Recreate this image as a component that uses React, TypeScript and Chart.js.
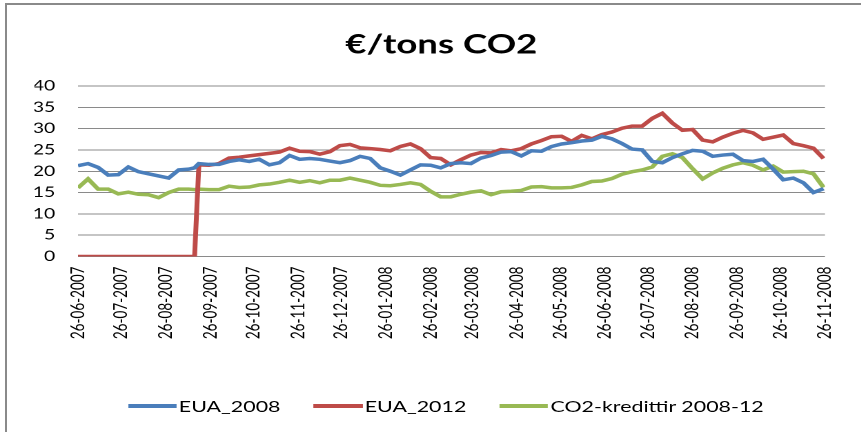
import React, { useEffect, useRef } from "react";
import { Chart, registerables } from "chart.js";

Chart.register(...registerables);

// days since 26-06-2007 (sample dates of the series)
const days = [
  0, 7, 14, 21, 28, 35, 42, 49, 56, 63, 70, 77, 81, 84, 91, 98, 105, 112, 119, 126,
  133, 140, 147, 154, 161, 168, 175, 182, 189, 196, 203, 210, 217, 224, 231, 238, 245,
  252, 259, 266, 273, 280, 287, 294, 301, 308, 315, 322, 329, 336, 343, 350, 357, 364,
  371, 378, 385, 392, 399, 406, 413, 420, 427, 434, 441, 448, 455, 462, 469, 476, 483,
  490, 497, 504, 511, 518,
];

const eua2008 = [
  21.3, 21.8, 20.9, 19.1, 19.2, 21.0, 19.9, 19.4, 18.9, 18.4, 20.3, 20.5, 20.8, 21.8,
  21.6, 21.6, 22.3, 22.7, 22.3, 22.8, 21.5, 22.0, 23.7, 22.8, 23.0, 22.8, 22.4, 22.0,
  22.5, 23.5, 23.0, 20.8, 20.0, 19.1, 20.3, 21.5, 21.4, 20.8, 21.8, 22.0, 21.8, 23.1,
  23.7, 24.5, 24.6, 23.6, 24.8, 24.7, 25.8, 26.4, 26.7, 27.1, 27.3, 28.2, 27.6, 26.5,
  25.2, 25.0, 22.3, 22.0, 23.2, 24.1, 24.9, 24.7, 23.5, 23.8, 24.0, 22.5, 22.3, 22.8,
  20.5, 18.0, 18.4, 17.3, 15.0, 15.9,
];

const eua2012 = [
  0, 0, 0, 0, 0, 0, 0, 0, 0, 0, 0, 0, 0, 21.5, 21.4, 21.8, 23.1, 23.3, 23.6, 23.9, 24.2,
  24.5, 25.4, 24.7, 24.6, 24.0, 24.6, 26.0, 26.3, 25.5, 25.3, 25.1, 24.8, 25.8, 26.4,
  25.3, 23.2, 23.0, 21.5, 22.7, 23.8, 24.4, 24.3, 25.1, 24.8, 25.3, 26.4, 27.2, 28.1,
  28.2, 27.0, 28.4, 27.6, 28.6, 29.2, 30.1, 30.6, 30.6, 32.4, 33.6, 31.3, 29.6, 29.8,
  27.3, 26.9, 28.0, 28.9, 29.6, 29.0, 27.5, 28.0, 28.5, 26.5, 26.0, 25.4, 23.0,
];

const co2Credits = [
  16.1, 18.2, 15.8, 15.8, 14.7, 15.1, 14.6, 14.5, 13.8, 15.0, 15.8, 15.8, 15.7, 15.8,
  15.7, 15.7, 16.5, 16.2, 16.3, 16.8, 17.0, 17.4, 17.9, 17.4, 17.8, 17.3, 17.9, 17.9,
  18.4, 17.9, 17.4, 16.7, 16.6, 16.9, 17.3, 16.9, 15.3, 14.0, 14.0, 14.6, 15.1, 15.4,
  14.5, 15.2, 15.3, 15.5, 16.3, 16.4, 16.1, 16.1, 16.2, 16.8, 17.6, 17.7, 18.3, 19.3,
  19.9, 20.3, 21.0, 23.5, 24.1, 23.2, 20.6, 18.2, 19.6, 20.7, 21.5, 22.0, 21.4, 20.3,
  21.2, 19.8, 19.9, 20.0, 19.4, 16.2,
];

const tickDays = [0, 30, 61, 92, 122, 153, 183, 214, 245, 274, 305, 335, 366, 396, 427, 458, 488, 519];
const tickLabels = [
  "26-06-2007", "26-07-2007", "26-08-2007", "26-09-2007", "26-10-2007", "26-11-2007",
  "26-12-2007", "26-01-2008", "26-02-2008", "26-03-2008", "26-04-2008", "26-05-2008",
  "26-06-2008", "26-07-2008", "26-08-2008", "26-09-2008", "26-10-2008", "26-11-2008",
];
const yTicks = [0, 5, 10, 15, 20, 25, 30, 35, 40];

const seriesNames = ["EUA_2008", "EUA_2012", "CO2-kredittir 2008-12"];
const seriesColors = ["#4A7EBB", "#BE4B48", "#98B954"];
const titleText = "€/tons CO2";

const SX = 1.38;
const CW = 624;
const CH = 432;
const FONT = "Lato, 'Open Sans', sans-serif";

export default function App() {
  const ref = useRef<HTMLCanvasElement>(null);

  useEffect(() => {
    const series = [eua2008, eua2012, co2Credits];
    const chart = new Chart(ref.current!, {
      type: "line",
      data: {
        datasets: series.map((vals, si) => ({
          label: seriesNames[si],
          data: days.map((d, i) => ({ x: d, y: vals[i] })),
          borderColor: seriesColors[si],
          backgroundColor: seriesColors[si],
          borderWidth: 3.5,
          pointRadius: 0,
          tension: 0,
          fill: false,
        })),
      },
      options: {
        responsive: false,
        animation: false,
        devicePixelRatio: 2,
        events: [],
        layout: { padding: { left: 25, right: 9.5, top: 0, bottom: 0 } },
        plugins: {
          legend: { display: false },
          tooltip: { enabled: false },
          title: {
            display: true,
            text: titleText,
            color: "#000",
            font: { family: FONT, size: 26.5, weight: "bold" },
            padding: { top: 29, bottom: 25.2 },
          },
        },
        scales: {
          x: {
            type: "linear",
            min: tickDays[0],
            max: tickDays[tickDays.length - 1],
            afterBuildTicks: (scale: any) => {
              scale.ticks = tickDays.map((v) => ({ value: v }));
            },
            afterFit: (scale: any) => {
              scale.height = 175.5;
            },
            ticks: {
              autoSkip: false,
              minRotation: 90,
              maxRotation: 90,
              padding: 10,
              color: "#000",
              font: { family: FONT, size: 13.5 },
              callback: (v: any) => {
                const i = tickDays.indexOf(Number(v));
                return i >= 0 ? tickLabels[i] : "";
              },
            },
            grid: { display: false, drawTicks: false },
            border: { display: false },
          },
          y: {
            min: yTicks[0],
            max: yTicks[yTicks.length - 1],
            afterBuildTicks: (scale: any) => {
              scale.ticks = yTicks.map((v) => ({ value: v }));
            },
            afterFit: (scale: any) => {
              scale.width = 31.5;
            },
            ticks: {
              padding: 16.5,
              color: "#000",
              font: { family: FONT, size: 14 },
            },
            grid: { color: "#8a8a8a", lineWidth: 1, drawTicks: false },
            border: { display: false },
          },
        },
      },
    });
    return () => chart.destroy();
  }, []);

  return (
    <div
      style={{
        position: "fixed",
        left: 0,
        top: 0,
        width: 861,
        height: 432,
        overflow: "hidden",
        background: "#fff",
      }}
    >
      <div
        style={{
          position: "absolute",
          left: 5,
          top: 3,
          width: 900,
          height: 500,
          border: "2px solid #8a8a8a",
          boxSizing: "border-box",
        }}
      />
      <div
        style={{
          position: "absolute",
          left: 0,
          top: 0,
          width: CW,
          height: CH,
          transform: `scaleX(${SX})`,
          transformOrigin: "0 0",
        }}
      >
        <canvas ref={ref} width={CW} height={CH} style={{ width: CW, height: CH, display: "block" }} />
        <div
          style={{
            position: "absolute",
            left: 0,
            top: 396,
            width: CW,
            boxSizing: "border-box",
            paddingLeft: 22,
            display: "flex",
            justifyContent: "center",
            gap: 24,
            fontFamily: FONT,
            fontSize: 15.5,
            color: "#000",
            lineHeight: "20px",
            whiteSpace: "nowrap",
          }}
        >
          {seriesNames.map((name, i) => (
            <div key={name} style={{ display: "flex", alignItems: "center" }}>
              <span
                style={{
                  display: "inline-block",
                  width: 35.5,
                  height: 3.5,
                  background: seriesColors[i],
                  marginRight: 1.5,
                }}
              />
              <span>{name}</span>
            </div>
          ))}
        </div>
      </div>
    </div>
  );
}
